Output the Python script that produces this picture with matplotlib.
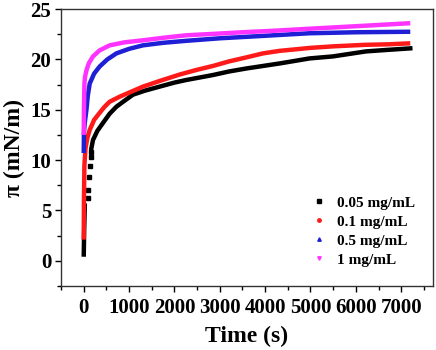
import matplotlib.pyplot as plt
from matplotlib.lines import Line2D
from matplotlib.ticker import MultipleLocator

plt.rcParams['font.family'] = ['Liberation Serif', 'DejaVu Serif']
plt.rcParams['font.weight'] = 'bold'

# values (time in s, surface pressure in mN/m)
# 0.05 mg/mL: solid foot, a few sparse points, then the continuous curve
t_005_foot = [0, 10, 25]
p_005_foot = [0.4, 3.0, 5.7]
t_005_dots = [88, 95, 110, 132, 150, 160]
p_005_dots = [6.2, 7.0, 8.3, 9.4, 10.3, 10.8]
t_005 = [170, 205, 300, 426, 570, 720, 900, 1086, 1350, 1674, 2000, 2262, 2550, 2848, 3200, 3583, 3950, 4317, 4650, 4978, 5492, 6226, 6700, 7200]
p_005 = [11.2, 12.0, 12.9, 13.7, 14.6, 15.3, 15.9, 16.5, 16.9, 17.3, 17.7, 17.96, 18.2, 18.45, 18.8, 19.1, 19.35, 19.6, 19.85, 20.1, 20.3, 20.8, 20.95, 21.1]

t_01 = [0, 5, 15, 40, 80, 132, 230, 352, 460, 573, 793, 1050, 1306, 1700, 2115, 2480, 2848, 3200, 3583, 3950, 4317, 5000, 5500, 6200, 6700, 7200]
p_01 = [2.1, 6.0, 9.5, 11.2, 12.2, 13.0, 14.0, 14.7, 15.3, 15.8, 16.3, 16.8, 17.3, 17.9, 18.5, 18.95, 19.35, 19.8, 20.2, 20.6, 20.85, 21.15, 21.3, 21.45, 21.5, 21.6]

t_05 = [0, 5, 20, 40, 60, 90, 132, 230, 352, 520, 720, 1000, 1306, 1750, 2262, 3000, 4000, 4978, 6000, 7200]
p_05 = [10.7, 12.7, 13.6, 14.3, 15.0, 16.4, 17.6, 18.6, 19.3, 20.0, 20.6, 21.05, 21.4, 21.65, 21.85, 22.1, 22.35, 22.6, 22.7, 22.75]

t_1 = [0, 5, 15, 30, 60, 110, 205, 350, 573, 900, 1306, 1750, 2262, 2900, 3500, 4200, 4978, 6000, 7200]
p_1 = [12.5, 15.0, 17.6, 18.3, 18.9, 19.6, 20.3, 20.9, 21.4, 21.7, 21.9, 22.15, 22.4, 22.55, 22.7, 22.85, 23.05, 23.3, 23.6]

labels = ['0.05 mg/mL', '0.1 mg/mL', '0.5 mg/mL', '1 mg/mL']
colors = ['black', '#ff1a1a', '#1f1fd6', '#ff33ff']
markers = ['s', 'o', '^', 'v']

fig, ax = plt.subplots(figsize=(4.36, 3.5), dpi=100)
fig.subplots_adjust(left=0.140, right=0.993, top=0.974, bottom=0.183)

lw = 3.2
ax.plot(t_005_foot, p_005_foot, color=colors[0], lw=lw, solid_capstyle='butt')
ax.plot(t_005_dots, p_005_dots, ls='none', marker='s', ms=3, color=colors[0])
ax.plot(t_005, p_005, color=colors[0], lw=lw)
ax.plot(t_01, p_01, color=colors[1], lw=lw, solid_capstyle='butt')
ax.plot(t_05, p_05, color=colors[2], lw=lw, solid_capstyle='butt')
ax.plot(t_1, p_1, color=colors[3], lw=lw, solid_capstyle='butt')

ax.set_xlim(-500, 7700)
ax.set_ylim(-2.5, 25)
ax.xaxis.set_major_locator(MultipleLocator(1000))
ax.xaxis.set_minor_locator(MultipleLocator(500))
ax.yaxis.set_major_locator(MultipleLocator(5))
ax.yaxis.set_minor_locator(MultipleLocator(2.5))
ax.tick_params(which='both', direction='out', top=False, right=False, labelsize=15)
ax.tick_params(which='major', length=4.5, width=1)
ax.tick_params(which='minor', length=3, width=1)
ax.tick_params(axis='x', pad=4.5)
ax.tick_params(axis='y', pad=2.5)
for s in ax.spines.values():
    s.set_linewidth(1)
    s.set_color('#333333')

ax.set_xlabel('Time (s)', fontsize=17, fontweight='bold', labelpad=5)
ax.set_ylabel('π (mN/m)', fontsize=17, fontweight='bold', labelpad=4)

handles = [Line2D([], [], ls='none', marker=m, color=c, markersize=2.5) for m, c in zip(markers, colors)]
ax.legend(handles, labels, loc='lower right', bbox_to_anchor=(0.99, 0.02), frameon=False,
          prop={'size': 11, 'weight': 'bold'}, handletextpad=0.6, labelspacing=0.35, handlelength=1.2)

fig.savefig('out.png', dpi=100)
